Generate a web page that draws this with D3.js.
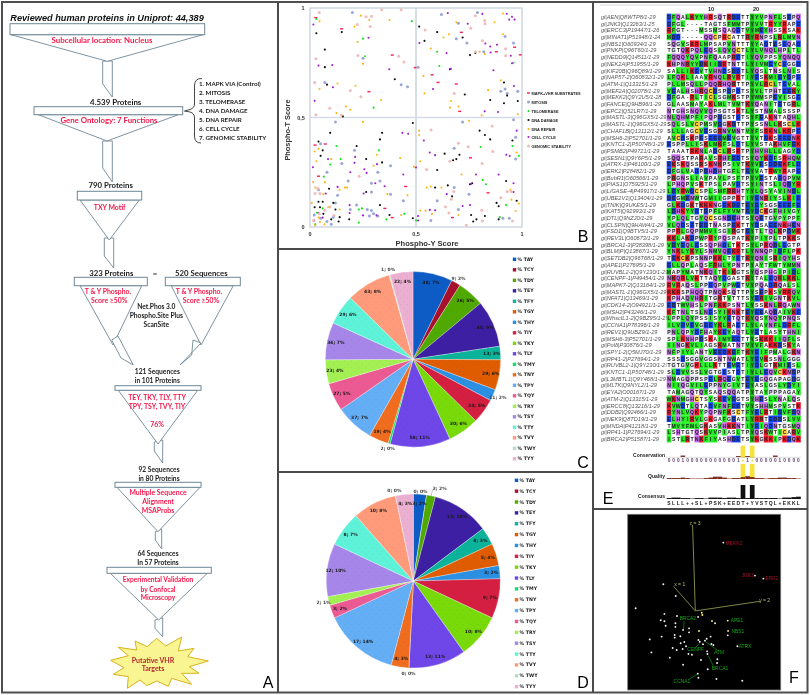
<!DOCTYPE html>
<html><head><meta charset="utf-8">
<script src="https://cdn.jsdelivr.net/npm/d3@7"></script>
<style>html,body{margin:0;padding:0;background:#fff}svg{display:block;filter:blur(.3px)}</style>
</head><body><svg id="c" width="810" height="695"></svg>
<script>
// ---------- DATA ----------
const scatterSeries = ["MAPK+VHR SUBSTRATES","MITOSIS","TELOMERASE","DNA DAMAGE","DNA REPAIR","CELL CYCLE","GENOMIC STABILITY"];
const mapkPts=[[.027,.956],[.149,.905],[.024,.374],[.072,.379],[.04,.232],[.278,.618],[.388,.785],[.496,.728],[.576,.695],[.604,.66],[.69,.653],[.714,.889],[.879,.8],[.965,.821],[.992,.786],[.706,.528],[.757,.316],[.84,.156],[.672,.043],[.451,.185],[.353,.085],[.388,.043]];
const mitosisPts=[[.2,.98],[.62,.97],[.79,.98],[.7,.93],[.69,.86],[.74,.84],[.92,.87],[.96,.84],[.82,.8],[.25,.77],[.51,.73],[.07,.66],[.43,.65],[.46,.64],[.9,.62],[.92,.63],[.98,.62],[.93,.61],[.12,.48],[.72,.48],[.96,.49],[.97,.41],[.97,.31],[.05,.38],[.68,.36],[.21,.35],[.15,.29],[.38,.28],[.08,.25],[.33,.21],[.18,.21],[.29,.2],[.04,.17],[.68,.18],[.13,.145],[.38,.15],[.29,.16],[.75,.15],[.44,.12],[.6,.12],[.12,.11],[.22,.1],[.19,.08],[.27,.08],[.29,.075],[.3,.06],[.28,.05],[.32,.05],[.02,.055],[.05,.04],[.11,.045],[.08,.025],[.1,.012],[.57,.03],[.91,.04],[.94,.04],[.7,.08],[.32,.25]];
const telomerasePts=[[.03,.95],[.48,.94],[.25,.86],[.26,.78],[.125,.37],[.325,.35],[.145,.31],[.095,.285],[.3,.545],[.61,.735],[.6,.8],[.96,.75],[.805,.365],[.955,.37],[.985,.325],[.815,.215],[.83,.195],[.925,.1],[.06,.085],[.23,.08],[.245,.085],[.445,.06],[.23,.02],[.025,.012],[.36,.035],[.5,.03],[.895,.045],[.033,.065],[.065,.23]];
const damagePts=[[.03,.885],[.15,.89],[.07,.81],[.07,.73],[.08,.65],[.155,.505],[.4,.675],[.515,.915],[.6,.89],[.54,.85],[.72,.865],[.755,.785],[.78,.795],[.66,.72],[.915,.66],[.915,.565],[.93,.6],[.85,.58],[.98,.575],[.73,.605],[.485,.475],[.34,.43],[.33,.4],[.095,.43],[.04,.39],[.06,.35],[.05,.325],[.22,.37],[.265,.31],[.34,.295],[.635,.335],[.705,.33],[.69,.31],[.675,.305],[.6,.26],[.8,.44],[.825,.42],[.85,.4],[.955,.395],[.65,.19],[.755,.195],[.765,.2],[.59,.18],[.09,.175],[.265,.16],[.04,.115],[.06,.115],[.047,.09],[.11,.11],[.12,.08],[.33,.1],[.375,.055],[.185,.035],[.14,.045],[.135,.025],[.063,.06],[.1,.035],[.485,.04],[.76,.055],[.825,.05],[.785,.035],[.77,.025],[.88,.11],[.89,.095],[.975,.12],[.925,.21],[.89,.035],[.022,.09],[.67,.14]];
const repairPts=[[.045,.94],[.24,.965],[.28,.945],[.21,.915],[.375,.945],[.225,.845],[.25,.745],[.69,.935],[.87,.935],[.91,.975],[.655,.88],[.63,.865],[.57,.815],[.8,.8],[.825,.79],[.91,.88],[.9,.67],[.84,.625],[.535,.69],[.54,.61],[.215,.645],[.045,.63],[.13,.655],[.335,.58],[.17,.55],[.19,.535],[.125,.52],[.665,.575],[.66,.545],[.7,.55],[.81,.51],[.98,.515],[.25,.48],[.515,.44],[.515,.42],[.75,.485],[.022,.345],[.04,.357],[.315,.33],[.425,.315],[.1,.31],[.03,.3],[.52,.3],[.49,.275],[.3,.28],[.715,.24],[.015,.205],[.025,.18],[.07,.205],[.165,.18],[.175,.18],[.063,.15],[.14,.17],[.365,.15],[.46,.145],[.55,.18],[.57,.185],[.62,.18],[.008,.11],[.086,.09],[.14,.08],[.43,.055],[.52,.075],[.545,.075],[.575,.06],[.7,.055],[.04,.043],[.068,.012],[.95,.125],[.985,.107],[.97,.073],[.975,.34],[.945,.17],[.047,.023],[.024,.008]];
const cyclePts=[[.016,.925],[.65,.977],[.813,.973],[.928,.974],[.953,.96],[.94,.947],[.965,.947],[.744,.928],[.276,.864],[.516,.84],[.644,.794],[.827,.838],[.85,.824],[.882,.832],[.852,.797],[.947,.782],[.953,.748],[.04,.737],[.105,.74],[.374,.72],[.664,.722],[.865,.716],[.022,.576],[.108,.638],[.58,.63],[.962,.644],[.824,.528],[.887,.525],[.463,.426],[.436,.43],[.537,.395],[.975,.44],[.085,.31],[.213,.32],[.565,.34],[.59,.328],[.926,.33],[.942,.324],[.014,.273],[.256,.264],[.316,.287],[.21,.293],[.19,.25],[.267,.247],[.308,.2],[.352,.186],[.44,.24],[.5,.272],[.783,.24],[.89,.24],[.76,.197],[.96,.2],[.645,.15],[.13,.183],[.074,.153],[.253,.153],[.187,.1],[.02,.03],[.187,.064],[.25,.053],[.314,.053],[.51,.05],[.51,.03],[.565,.078],[.59,.076],[.72,.096],[.755,.1],[.96,.16],[.04,.064],[.06,.043]];
const stabilityPts=[[.044,.98],[.43,.992],[.338,.992],[.223,.925],[.265,.96],[.29,.962],[.284,.916],[.543,.9],[.78,.965],[.824,.943],[.826,.928],[.758,.907],[.813,.85],[.923,.814],[.78,.8],[.923,.782],[.028,.768],[.226,.783],[.418,.78],[.443,.753],[.022,.66],[.19,.623],[.24,.595],[.68,.61],[.028,.513],[.093,.542],[.148,.511],[.571,.443],[.859,.461],[.7,.382],[.746,.366],[.862,.345],[.812,.29],[.55,.263],[.66,.3],[.232,.232],[.024,.153],[.047,.153],[.036,.176],[.678,.162],[.93,.162],[.95,.162],[.9,.134],[.667,.127],[.639,.093],[.81,.076],[.655,.064],[.813,.027],[.738,.008],[.955,.027],[.113,.053],[.044,.061],[.07,.076],[.094,.092],[.016,.03]];
const scatterTicks=[[0,"0"],[.5,"0,5"],[1,"1"]];

const motifs=["TAY","TCY","TDY","TEY","TFY","TGY","THY","TIY","TKY","TLY","TMY","TNY","TPY","TQY","TRY","TSY","TTY","TVY","TWY","TYY"];
const pieColors=["#0d5cc6","#a80f2c","#4fa900","#3d1fa3","#0bb39b","#e05c00","#2b8fe2","#d41f41","#78da09","#6f46e8","#12e066","#f06c1e","#64aef5","#ec5a94","#a2f052","#a686e8","#5ef3d9","#ff9b7b","#b7dcc2","#ebafd1"];
const pieCValues=[38,9,26,45,13,29,11,24,30,58,2,19,37,27,23,36,29,43,1,22];
const pieCPercents=[7,2,5,9,3,6,2,5,6,11,0,4,7,5,4,7,6,8,0,4];
const pieCOutside=["TCY","THY","TMY","TWY"];
const pieDValues=[3,0,2,13,4,5,3,9,10,13,0,4,17,3,2,12,8,10,0,4];
const pieDPercents=[2,0,2,10,3,4,2,7,8,11,0,3,14,2,1,10,7,8,0,3];
const pieDOutside=["TCY","TDY","TMY","TRY","TWY"];

const msaNames=["AEN|Q8WTP8/1-29","JNK3|Q13263/1-25","ERCC3|P19447/1-26","MINAT1|P51948/1-24","NBS1|O60934/1-29","PNKP|Q96T60/1-29","NEDD9|Q14511/1-29","NEK2A|P51955/1-29","KIF20B|Q96Q89/1-29","NAP57-2|O60832/1-29","ATM-1|Q13315/1-29","MEF2A|Q02078/1-29","MEKK2|Q9Y2U5/1-28","FANCE|Q9HB96/1-29","EPC2|Q52LR7/1-29","MASTL-3|Q96GX5/1-29","MASTL-1|Q96GX5/1-29","CHAF1B|Q13112/1-29","MSH6-2|P52701/1-29","KNTC1-2|P50748/1-29","PSMB2|P49721/1-29","SESN1|Q9Y6P5/1-29","ATRX-1|P46100/1-29","ERK2|P28482/1-29","BubR1|O60566/1-29","PIAS1|O75925/1-29","LIGASE-4|P49917/1-29","UBE2V1|Q13404/1-29","TNIK|Q9UKE5/1-29","KAT5|Q92993/1-29","DTL|Q9NZJ0/1-29","CLSPN|Q9HAW4/1-29","FSD1|Q9BTV5/1-29","REV3L|O60673/1-29","BRCA1-3|P38398/1-29","BLM|P|Q13867/1-29","SETDB2|Q96T68/1-29","APE1|P27695/1-29","RUVBL2-2|Q9Y230/1-29","CENPF-1|P49454/1-29","MAPK7-2|Q13164/1-29","MASTL-2|Q96GX5/1-29","NFAT1|Q13469/1-29","CDK14-2|O94921/1-29","MSH2|P43246/1-29","WhscIL1-2|Q9BZ95/1-29","CCNA1|P78396/1-29","REV1|Q9UBZ9/1-29","MSH6-3|P52701/1-29","Pol\u03b4|P30876/1-29","SPY1-2|Q5MJ70/1-29","RP41-2|P27694/1-29","RUVBL2-1|Q9Y230/1-29","KNTC1-1|P50748/1-29","L3MBTL1|Q9Y468/1-29","MLTK|Q9NYL2/1-29","EYA2|O00167/1-29","ATM-2|Q13315/1-29","ERCC8|Q13216/1-29","DDB2|Q92466/1-29","NEK9|Q8TD19/1-29","MNDA|P41218/1-29","RP41-1|P27694/1-29","BRCA2|P51587/1-29"];
const msaSeqs=["DFQALKYYHRSQTRDDTTYYVPNFLSEPQ","DFGL----TAGTSFMMTPYVVTRYYRAPE","RFGT---MSSMSQAQDTVYMEYHSSKSAK","MDD-----QQCPRCATTRYRNPSLRLMVN","SQGVSKRLMPSAPVNTTTYYADTESEQAD","TGTQKPQLEQSLQVQCTLYLVNQLHPLTL","FQQQYQVPNFQAAPRDTIYQVPPSYQNQQ","KHPNRYYDKIIDRTNTTLYIVMEYCEGGD","SALLIKEVTVHNDSDDTLYQSLTNSLNIS","LFQKLIAAVRNQLRVRTIYESKMIEYDPE","PLLMSQLLPQQRHQRTTPYVLRCLTEVAL","VEALHSHRQCDSPDPDTSYVLTPHTEEKY","DFGA-RLTICLSGMKSTPYWMSPEVISGE","GLAASMAYAKLMLTVMTKYQANITETGRL","NTGHSNQVVQPSGTSKTLYSTNMALSSSP","NLQHMPFIPQPDGSTDTSYFEAKNTAQHL","SQLSLVCPMSVDGKDTTPYSSNLLKSCLK","SLLLAGCVESGRNVMNTVYFSRKNLKRPE","AVCDSKPESEEEMEVGTTYVTDKSEEDNK","ESPPLLISKLMKFSLDTLYVSTAKHVFEK","TAAATRKNLADCLRSRTPYHVHLLLAGYD","SQQSTPARAVSRHFEDTSYQYKDFSRHQM","EKSKQSSRSKNKPSIVTKYVESDDEKFLD","DFGLVADPDHDHTGFLTEYVATRWYRAPE","PRGNSLIAVPAVLPSFTPYVESTAEQPVM","LPHQPVSKTPSLPAVDTSYINTSLIQDYR","LEYRWDCSPLSMFRRHTYYLQSYAVINDL","DEGMENWTGMIIGPPRTIYENRIYSLKIE","GLKDGKTKKKNGEKDETEYEYSGSEEEFE","LDHKYYDTDPFLFYVMTEYDCKGFHIVGY","YPLQLTGYQCSGNDEHTSYQETGVPYPPF","VLQDSETEDTNASPEKTTYDSAEENKHEN","PPRLGQPMMVISGIRGTEYTLTQLKPDMK","KKLAKDPWPRYPQSPATKYPIYPLTPKKS","VDYEQLESSQPHDLTKTSYLPRQDLEGTP","YNKLYKYLSNMVQEKRTLYNNQPIDFLPK","TEKCKPSNNPKKLTYETKYQNISRIQYHS","ELLQPLAQSFRHLYPNTPYAYTFWTYMMN","MAPYMATNKQITKIKGTSYQSPHGIPIDL","NKQRLVKTTAQYDGASTKYTALEQKLKKL","RVRAQSLPPEQPVPWETVYPQADRQALSL","KKRSPHQQTPNQKSQTTPYSEPKSVRRQV","KPHAQVHRITGKTVTTTSYERIVGNTKVL","EDTWVHSLPNFKKPSNTLYSSKNLRQAWN","KFTNLTSLNESYIKNKTEYEEAQDAIVKE","LPPLQYPSSISYYETQTKYQSYNQYPNQS","ILVDVEVGEEYKLRAETLYLAVNFLDRFL","PNLQPYDFHAYKEYAQTLYETLASYTHNI","SPLKNHPDSKAIMYEETTYSKKKIIQFLS","IINGKVLIAGSKMATNTVYVFAKKDSKYA","NFPIYLANTVEEDKEFTKYEIFPMALGKN","SSSDSGGVGGSNTNWATLYEVKSSNLGGG","TGTGVGKLLLKTTEMETIYDLGTKMIESL","SLEVVSSLVGTGESTDTIYLLEQVCKNDP","NMAGQPPSPELRQEGVTEYEGQGAPAGDG","NIIQGVILEPPNYGIVTEYASLGSLYDYI","TAMAGQTQYSAQSQQATPYTAYPPPAGAY","WKNMGHCTSYSKEVEGTSYHESLYNALQS","KVWDTLQTADVFNFEETVYSHHMSPVSTK","RYNLVQKYPQPNFKSCTFYELRTIDVFDQ","ELHYIRVLGKGAFGEATLYRRTEDDSLVV","TMVYFMLGKASVHKKNTIYEIQDNTGSMQ","LSHTGTQSKVVPIASLTPYQSKWTICARV","ISTLRTNKFIYASHDETSYKGKKIPKDQK"];
const conservationRow="0001000000000001+1+0000010000";
const consensusRow="SLLL++SL+PSK+EEDT+YVSTQL+EKKL";
const qualityVals=[1,1,1,1.5,1,.5,.5,.5,1,1.5,2.5,2.5,1.5,.5,1,1,2,3,2,1,1,.5,1,1,1.5,1.5,1,1,.5];
const consensusVals=[1,1.5,1.5,1,1,.5,1,1,.5,1.5,1.5,1.5,1,1.5,1.5,1,15,1,15,1,1,1,1,1,.5,1.5,1.5,2,2.5];
const conservationVals=[0,0,0,1.5,0,0,0,0,0,0,0,0,0,0,0,1,0,1,0,0,0,0,0,1.5,0,0,0,0,0];

const pcaPts=[[.625,.161],[.832,.349],[.887,.366],[.233,.398],[.314,.465],[.052,.535],[.484,.56],[.488,.573],[.46,.584],[.24,.567],[.322,.579],[.216,.603],[.24,.609],[.248,.634],[.312,.62],[.312,.641],[.362,.658],[.401,.649],[.401,.672],[.466,.664],[.551,.607],[.571,.62],[.654,.605],[.656,.664],[.654,.689],[.144,.712],[.222,.696],[.307,.687],[.307,.702],[.344,.694],[.542,.696],[.516,.708],[.505,.719],[.462,.715],[.471,.725],[.492,.74],[.547,.738],[.56,.744],[.37,.727],[.346,.734],[.381,.751],[.294,.761],[.32,.772],[.359,.767],[.397,.795],[.42,.799],[.519,.78],[.521,.795],[.717,.751],[.155,.786],[.275,.816],[.479,.829],[.586,.825],[.584,.846],[.362,.856],[.523,.882],[.458,.907],[.462,.93],[.58,.937],[.749,.947]];
const pcaYellow=[6,7,19,20,22,23];
const pcaRedLabels=[["MEKK2",.64,.168],["JNK3",.745,.35],["ERK2",.9,.368]];
const pcaGreenLabels=[["APE1",.673,.605],["NBS1",.678,.665],["ATRX",.725,.755],["ATM",.565,.787],["CENPF",.39,.772],["BRCA2",.34,.595],["BRCA1",.55,.877],["CCNA1",.3,.953]];
const pcaLeaders=[[.368,.607,.366,.655],[.436,.763,.473,.734],[.584,.772,.51,.725],[.56,.863,.527,.805],[.401,.939,.455,.91]];
const pcaAxes=[["x = 1",.3,.41,.34,.398],["y = 2",.866,.495,.895,.488],["z = 3",.424,.06,.44,.052]];
const pcaOrigin=[.442,.55];

const funnelList=["1. MAPK VIA (Control)","2. MITOSIS","3. TELOMERASE","4. DNA DAMAGE","5. DNA REPAIR","6. CELL CYCLE","7. GENOMIC STABILITY"];

// ---------- HELPERS ----------
const svg=d3.select("#c");
const FLOW='Lato,"Open Sans",sans-serif', ARIAL='"Liberation Sans",Arial,sans-serif', TAH='"DejaVu Sans",sans-serif';
function T(x,y,s,o={}){
  return svg.append("text").attr("x",x).attr("y",y).text(s)
   .attr("text-anchor",o.a||"middle").attr("dominant-baseline","central")
   .attr("font-family",o.f||FLOW).attr("font-size",o.s||7).attr("font-weight",o.w||"bold")
   .attr("font-style",o.i||"normal").attr("fill",o.c||"#1a1a1a");
}
const poly=(pts,fill,stroke,w=.9)=>svg.append("polygon").attr("points",pts.map(p=>p.join(",")).join(" ")).attr("fill",fill).attr("stroke",stroke).attr("stroke-width",w);
const line=(a,b,c,d,col="#4a4a4a",w=2)=>svg.append("line").attr("x1",a).attr("y1",b).attr("x2",c).attr("y2",d).attr("stroke",col).attr("stroke-width",w);

// ---------- FRAME ----------
svg.append("rect").attr("x",2).attr("y",2).attr("width",805.5).attr("height",690.5).attr("fill","#fff").attr("stroke","#4f4f4f").attr("stroke-width",2);
line(278,2,278,693); line(593,2,593,693); line(278,249,593,249); line(278,472,593,472); line(593,509,808,509);
const P={s:16,f:ARIAL,w:"normal",c:"#000"};
T(268,682,"A",P);T(583,236,"B",P);T(583,462,"C",P);T(583,682,"D",P);T(608,498,"E",P);T(794,677,"F",P);

// ---------- A: FLOW ----------
const RED="#f5174a", ST="#6e8797";
T(107,18,"Reviewed human proteins in Uniprot: 44,389",{f:ARIAL,i:"italic",s:9.2,c:"#111"});
function funnel(rx0,rx1,ry0,ry1,tx0,tx1,ax,ay){
  poly([[tx0,ry1],[tx1,ry1],[ax,ay]],"#fff",ST);
  svg.append("rect").attr("x",rx0).attr("y",ry0).attr("width",rx1-rx0).attr("height",ry1-ry0).attr("fill","#fff").attr("stroke",ST).attr("stroke-width",1);
}
const neck=p=>poly(p,"#fff",ST);
neck([[102.7,61],[112.3,61],[112.3,97],[102.7,84]]);
neck([[102.7,141],[112.3,141],[112.3,182],[102.7,168]]);
neck([[104.3,238],[113.7,238],[113.7,268],[104.3,256]]);
funnel(10,204.7,23.7,34.7,11,203,107.3,61.3);
funnel(34,182.7,106.7,114.7,38.3,178.3,107,141);
funnel(77.3,141.7,191.3,200,80,139.3,109.3,240);
funnel(74.3,147.3,277.3,285.7,80,141.7,113,345);
funnel(165.3,240.3,277.3,285.7,171.3,233.3,201,345);
neck([[111.7,340],[118,336],[133.3,365],[121,358]]);
neck([[193,340],[201,343],[180,365],[191.7,355]]);
neck([[154.3,442],[162.7,440],[162.7,463],[154.3,451]]);
neck([[155.3,531.7],[161.7,529],[161.7,549],[155.3,540]]);
neck([[155,620],[162.7,617.7],[162.7,636.7],[155,628.3]]);
funnel(115,201,385.7,390.3,118.3,197.7,158,444);
funnel(115,201,482.3,487.3,117,200,158,531.7);
funnel(107,211.3,567.3,573.3,110.3,207.3,158.7,620);
const R=(x,y,s,z)=>T(x,y,s,{c:RED,s:z||6.9});
R(102,40,"Subcellular location: Nucleus",7.9);R(109,119.7,"Gene Ontology: 7 Functions",7.8);R(109.7,206.7,"TXY Motif");
R(108,291,"T & Y Phospho.");R(109.3,300.3,"Score \u226550%");R(199,291,"T & Y Phospho.");R(201,300.3,"Score \u226550%");
R(157,397.3,"TEY, TKY, TLY, TTY");R(157,406.3,"TPY, TSY, TVY, TIY");R(157,424,"76%");
R(158,492,"Multiple Sequence");R(158,501,"Alignment");R(158,510,"MSAProbs");
R(158,579.3,"Experimental Validation",6.7);R(158,588.7,"by Confocal",6.7);R(158,597.3,"Microscopy",6.7);
const B=(x,y,s,z)=>T(x,y,s,{s:z});
B(115.7,101.7,"4.539 Proteins",7.9);B(110.7,185,"790 Proteins",7.8);B(111.3,273,"323 Proteins",7.8);B(155,273,"=",7.8);B(201.3,273,"520 Sequences",7.8);
B(156.3,306.3,"Net.Phos 3.0",6.7);B(156.3,315,"Phospho.Site  Plus",6.7);B(156.3,324,"ScanSite",6.7);
B(157.3,371,"121 Sequences",6.7);B(157.3,380.3,"in 101 Proteins",6.7);B(159,469.3,"92 Sequences",6.7);B(159,478.3,"in 80 Proteins",6.7);
B(158,553.3,"64 Sequences",6.7);B(158,562.3,"In 57 Proteins",6.7);
funnelList.forEach((s,i)=>T(199,83.7+i*9.03,s,{a:"start",s:6.2}));
svg.append("path").attr("d","M202,78.5 Q194.5,78 194.5,86 L194.5,104 Q194.5,108 190,109.5 L184.5,111 L190,112 Q194.5,113 194.5,118 L194.5,136 Q194.5,143 201,143").attr("fill","none").attr("stroke","#333").attr("stroke-width",.9);
// burst
const starRaw=[[332,946],[385,932],[355,907],[410,915],[405,888],[442,905],[470,880],[497,903],[545,876],[535,918],[582,910],[563,935],[625,948],[568,965],[597,985],[545,985],[575,1018],[515,1000],[505,1024],[470,1008],[440,1022],[420,1005],[382,1030],[385,995],[340,988],[372,968]];
poly(starRaw.map(([a,b])=>[a/3,345+b/3]),"#f9f593","#d9b21c",1);
T(153,659.7,"Putative VHR",{c:"#b3262f"});T(153,668.3,"Targets",{c:"#b3262f"});

// ---------- B: SCATTER ----------
const sx=d3.scaleLinear().domain([0,1]).range([310,522]), sy=d3.scaleLinear().domain([0,1]).range([227,8]);
const G="#cdd5e0";
svg.append("rect").attr("x",sx(0)).attr("y",sy(1)).attr("width",sx(1)-sx(0)).attr("height",sy(0)-sy(1)).attr("fill","none").attr("stroke",G).attr("stroke-width",1.4);
line(sx(.5),sy(0),sx(.5),sy(1),"#b9c6d4",1.2);line(sx(0),sy(.5),sx(1),sy(.5),"#d6dbe6",1.6);
const tk={f:ARIAL,s:5.5,c:"#333"};
scatterTicks.forEach(([v,l])=>{T(sx(v),234,l,tk);T(v==.5?301:303,sy(v),l,tk);});
T(427,243,"Phospho-Y Score",{f:ARIAL,s:7.6,c:"#333"});
T(0,0,"Phospho-T Score",{f:ARIAL,s:7.4,c:"#333"}).attr("transform","translate(287,130) rotate(-90)");
const sStyles=[{t:"dash",c:"#fb1e50"},{t:"c",c:"#9aa6d6"},{t:"s",c:"#12e612"},{t:"s",c:"#0a0a0a"},{t:"s",c:"#ffb411"},{t:"s",c:"#a11ed2"},{t:"c",c:"#efbcbc"}];
[mapkPts,mitosisPts,telomerasePts,damagePts,repairPts,cyclePts,stabilityPts].forEach((pts,k)=>{
  const st=sStyles[k];
  const draw=(sel)=>{
    if(st.t=="dash") sel.append("rect").attr("x",d=>d.x-1.5).attr("y",d=>d.y-.7).attr("width",3).attr("height",1.4).attr("fill",st.c);
    else if(st.t=="c") sel.append("circle").attr("cx",d=>d.x).attr("cy",d=>d.y).attr("r",1.5).attr("fill",st.c);
    else sel.append("circle").attr("cx",d=>d.x).attr("cy",d=>d.y).attr("r",1.05).attr("fill",st.c);
  };
  draw(svg.append("g").selectAll("g").data(pts.map(p=>({x:sx(p[0]),y:sy(p[1])}))).join("g"));
  const ly=[93,102,111,120,129,137,146][k];
  draw(svg.append("g").selectAll("g").data([{x:528.5,y:ly}]).join("g"));
  T(531.5,ly,scatterSeries[k],{a:"start",f:ARIAL,s:3.9,c:"#222"});
});

// ---------- C / D: PIES ----------
const defs=svg.append("defs");
const pat=defs.append("pattern").attr("id","dots").attr("width",7).attr("height",7).attr("patternUnits","userSpaceOnUse");
pat.append("circle").attr("cx",1.5).attr("cy",1.5).attr("r",.32).attr("fill","#222").attr("opacity",.4);
pat.append("circle").attr("cx",5).attr("cy",5).attr("r",.32).attr("fill","#222").attr("opacity",.4);
const labelNudge={D:{TCY:[-7,2],TDY:[7,0],TAY:[0,1]}, C:{}};
function drawPie(key,vals,pcts,outside,cx,cy,Rad,lx,ly0,step){
  const arcs=d3.pie().sort(null).value(d=>d)(vals);
  const arc=d3.arc().innerRadius(0).outerRadius(Rad);
  const g=svg.append("g").attr("transform",`translate(${cx},${cy})`);
  g.selectAll("path.s").data(arcs).join("path").attr("d",arc).attr("fill",(d,i)=>pieColors[i]).attr("stroke","#fff").attr("stroke-width",.3);
  g.selectAll("path.o").data(arcs).join("path").attr("d",arc).attr("fill","url(#dots)");
  const pos=(d,r)=>d3.arc().innerRadius(r).outerRadius(r).centroid(d);
  arcs.forEach((d,i)=>{
    const m=motifs[i], out=outside.includes(m);
    const [x,y]=pos(d,Rad*(out?(m=="TDY"?1.09:1.06):.9));
    const [nx,ny]=labelNudge[key][m]||[0,0];
    T(cx+x+nx,cy+y+ny,`${vals[i]}; ${pcts[i]}%`,{f:TAH,s:4.5,c:out?"#444":"#1a1a1a"});
    if(key=="D"&&m=="TDY"){const [e,f]=pos(d,Rad);svg.append("path").attr("d",`M${cx+e},${cy+f}L${cx+e+1},${cy+f-4}L${cx+x+nx-6},${cy+y+ny}`).attr("fill","none").attr("stroke","#666").attr("stroke-width",.4);}
    const yy=ly0+i*step;
    svg.append("rect").attr("x",lx-1.7).attr("y",yy-1.7).attr("width",3.4).attr("height",3.4).attr("fill",pieColors[i]);
    T(lx+3,yy,`% ${m}`,{a:"start",f:TAH,s:4.7,c:"#222"});
  });
}
drawPie("C",pieCValues,pieCPercents,pieCOutside,413,359.3,87.7,514.5,259.3,10.5);
drawPie("D",pieDValues,pieDPercents,pieDOutside,413.3,581,87,516.5,480.3,10.86);

// ---------- E: ALIGNMENT ----------
line(600,5,802,5,"#d8d8d8",1);
const col=d3.scaleBand().domain(d3.range(29)).range([666.7,800.7]);
const row=d3.scaleBand().domain(d3.range(msaSeqs.length)).range([13.65,442.35]);
T(711,9,"10",{f:ARIAL,s:5.6,c:"#222"});T(756,9,"20",{f:ARIAL,s:5.6,c:"#222"});
function aaColor(a,j){
  if(a=="-")return "#fff";
  if("KR".includes(a))return "#ee1426";
  if("DE".includes(a))return "#1440ee";
  if("LIVFMYW".includes(a))return (j==18&&a=="Y")?"#0cb30c":"#22ee22";
  if("NQ".includes(a))return "#c66de8";
  if(a=="H")return "#c66de8";
  if(a=="C")return "#ffd23c";
  if("GP".includes(a))return "#dfe1ee";
  return "#fff";
}
msaNames.forEach((n,i)=>T(601,row(i)+row.bandwidth()/2,"gi|"+n,{a:"start",f:ARIAL,s:5.6,i:"italic",w:"normal",c:"#555"}));
const cells=msaSeqs.flatMap((s,i)=>s.split("").slice(0,29).map((a,j)=>({a,i,j})));
svg.append("g").selectAll("rect").data(cells).join("rect").attr("x",d=>col(d.j)).attr("y",d=>row(d.i)).attr("width",col.bandwidth()+.1).attr("height",row.bandwidth()+.1).attr("fill",d=>aaColor(d.a,d.j));
svg.append("g").selectAll("text").data(cells).join("text").attr("x",d=>col(d.j)+col.bandwidth()/2).attr("y",d=>row(d.i)+row.bandwidth()/2).attr("text-anchor","middle").attr("dominant-baseline","central").attr("font-family",ARIAL).attr("font-size",5.2).attr("font-weight","bold").attr("fill","#222").text(d=>d.a);
// annotation
const lab={a:"end",f:ARIAL,s:5,c:"#222"};
T(665,455,"Conservation",lab);T(665,475.7,"Quality",lab);T(665,496,"Consensus",lab);
[16,18].forEach(j=>{
  svg.append("rect").attr("x",col(j)).attr("y",445.7).attr("width",col.bandwidth()).attr("height",12.3).attr("fill","#f7e23c");
  svg.append("rect").attr("x",col(j)).attr("y",464).attr("width",col.bandwidth()).attr("height",15).attr("fill","#f7e23c");
});
line(666,457.3,801,457.3,"#bbb",.5);
conservationVals.forEach((v,j)=>{if(v>0)svg.append("rect").attr("x",col(j)).attr("y",457-v).attr("width",col.bandwidth()).attr("height",v).attr("fill","#7a3b3b");});
conservationRow.split("").forEach((c,j)=>T(col(j)+col.bandwidth()/2,460.7,c,{f:ARIAL,s:4.8,c:c=="+"?"#e8d020":"#5a3a6a"}));
const hQ=d3.scaleLinear().domain([0,15]).range([0,14]);
svg.append("g").selectAll("rect").data(qualityVals).join("rect").attr("x",(d,j)=>col(j)).attr("y",d=>479-hQ(d)).attr("width",col.bandwidth()+.1).attr("height",d=>hQ(d)).attr("fill","#7c2a20");
svg.append("g").selectAll("rect").data(consensusVals).join("rect").attr("x",(d,j)=>col(j)).attr("y",d=>499-hQ(d)).attr("width",col.bandwidth()+.1).attr("height",d=>hQ(d)).attr("fill","#111");
consensusRow.split("").forEach((c,j)=>T(col(j)+col.bandwidth()/2,502.8,c,{f:ARIAL,s:5,c:"#222"}));

// ---------- F: PCA ----------
const px=d3.scaleLinear().domain([0,1]).range([627.7,780.7]), py=d3.scaleLinear().domain([0,1]).range([514.3,690]);
svg.append("rect").attr("x",px(0)).attr("y",py(0)).attr("width",px(1)-px(0)).attr("height",py(1)-py(0)).attr("fill","#000").attr("stroke","#777").attr("stroke-width",.8);
pcaAxes.forEach(([l,a,b,lxx,lyy])=>{
  line(px(pcaOrigin[0]),py(pcaOrigin[1]),px(a),py(b),"#7d8644",1);
  T(px(lxx),py(lyy),l,{f:ARIAL,s:5,c:"#b5bd6a",w:"normal"});
});
pcaLeaders.forEach(([a,b,c,d])=>line(px(a),py(b),px(c),py(d),"#0c9a1a",.7));
svg.append("g").selectAll("circle").data(pcaPts).join("circle").attr("cx",d=>px(d[0])).attr("cy",d=>py(d[1])).attr("r",.95).attr("fill",(d,i)=>pcaYellow.includes(i)?"#fff27a":"#f4f4f4");
pcaRedLabels.forEach(([l,a,b])=>T(px(a),py(b),l,{a:"start",f:ARIAL,s:4.9,c:"#a81024",w:"normal"}));
pcaGreenLabels.forEach(([l,a,b])=>T(px(a),py(b),l,{a:"start",f:ARIAL,s:4.9,c:"#12a812",w:"normal"}));
</script></body></html>
